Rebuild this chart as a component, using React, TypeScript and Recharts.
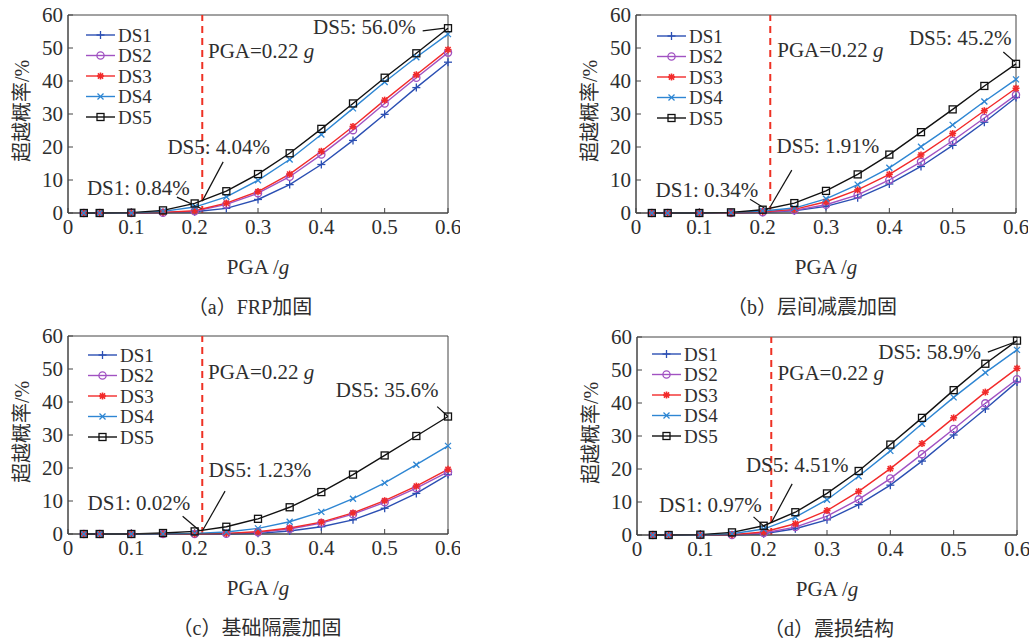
import React from 'react';
import { LineChart, Line, XAxis, YAxis, ReferenceLine, ReferenceDot, ReferenceArea } from 'recharts';

// PGA 取值 (g)
const PGA = [0.025, 0.05, 0.1, 0.15, 0.2, 0.25, 0.3, 0.35, 0.4, 0.45, 0.5, 0.55, 0.6];
const X_TICKS = [0, 0.1, 0.2, 0.3, 0.4, 0.5, 0.6];
const Y_TICKS = [0, 10, 20, 30, 40, 50, 60];

const SERIES = ['DS1', 'DS2', 'DS3', 'DS4', 'DS5'];
const COLORS = ['#2b4fb3', '#a152c2', '#f22a2a', '#2e86d3', '#111111'];
const MARKS = ['plus', 'circle', 'star', 'cross', 'square'];

// (a) FRP加固
const frpDS1 = [0, 0, 0, 0.1, 0.4, 1.4, 4.1, 8.6, 14.7, 22.0, 29.9, 38.0, 45.7];
const frpDS2 = [0, 0, 0, 0.1, 0.5, 2.6, 6.0, 11.0, 17.7, 25.1, 33.2, 41.0, 48.6];
const frpDS3 = [0, 0, 0, 0.2, 0.7, 3.0, 6.5, 11.8, 18.7, 26.2, 34.2, 41.9, 49.5];
const frpDS4 = [0, 0, 0, 0.5, 1.8, 4.9, 9.9, 16.2, 23.8, 31.7, 39.7, 47.2, 54.2];
const frpDS5 = [0, 0, 0.1, 0.8, 2.9, 6.6, 11.8, 18.1, 25.5, 33.2, 41.0, 48.4, 56.0];

// (b) 层间减震加固
const damperDS1 = [0, 0, 0, 0, 0.2, 0.7, 2.0, 4.6, 8.8, 14.1, 20.5, 27.5, 35.0];
const damperDS2 = [0, 0, 0, 0, 0.2, 0.8, 2.5, 5.5, 10.0, 15.5, 21.9, 28.8, 35.8];
const damperDS3 = [0, 0, 0, 0, 0.4, 1.1, 3.4, 7.0, 11.7, 17.6, 24.1, 31.0, 37.8];
const damperDS4 = [0, 0, 0, 0.1, 0.6, 1.5, 4.3, 8.6, 13.7, 20.1, 26.7, 33.8, 40.5];
const damperDS5 = [0, 0, 0, 0.2, 1.0, 3.0, 6.7, 11.7, 17.7, 24.5, 31.4, 38.5, 45.2];

// (c) 基础隔震加固
const isoDS1 = [0, 0, 0, 0, 0, 0, 0.2, 0.9, 2.2, 4.3, 7.8, 12.3, 18.0];
const isoDS2 = [0, 0, 0, 0, 0, 0.1, 0.5, 1.5, 3.3, 6.0, 9.6, 13.9, 18.8];
const isoDS3 = [0, 0, 0, 0, 0, 0.2, 0.7, 1.8, 3.6, 6.4, 10.1, 14.5, 19.6];
const isoDS4 = [0, 0, 0, 0, 0.2, 0.6, 1.7, 3.7, 6.7, 10.7, 15.5, 21.0, 26.7];
const isoDS5 = [0, 0, 0, 0.3, 0.8, 2.2, 4.6, 8.1, 12.7, 18.0, 23.8, 29.7, 35.6];

// (d) 震损结构
const dmgDS1 = [0, 0, 0, 0, 0.4, 1.9, 4.6, 9.2, 15.1, 22.4, 30.3, 38.2, 46.4];
const dmgDS2 = [0, 0, 0, 0, 0.6, 2.4, 5.7, 10.8, 17.1, 24.5, 32.1, 39.9, 47.2];
const dmgDS3 = [0, 0, 0, 0.1, 0.9, 3.4, 7.4, 13.2, 20.1, 27.7, 35.5, 43.3, 50.5];
const dmgDS4 = [0, 0, 0, 0.4, 1.8, 5.4, 10.7, 17.8, 25.5, 33.7, 41.7, 49.2, 56.1];
const dmgDS5 = [0, 0, 0.1, 0.8, 2.8, 6.9, 12.6, 19.4, 27.4, 35.5, 43.9, 51.9, 58.9];

const PGA_LINE = 0.212;

const TEXT = '#2e2e2e';
const FONT = '"Liberation Serif", "Noto Sans CJK SC", serif';
const FS = 21;

function Marker({ kind, x, y, color }: any) {
  switch (kind) {
    case 'plus':
      return (
        <g stroke={color} strokeWidth={1.3}>
          <line x1={x - 4} y1={y} x2={x + 4} y2={y} />
          <line x1={x} y1={y - 4} x2={x} y2={y + 4} />
        </g>
      );
    case 'circle':
      return <circle cx={x} cy={y} r={3.6} fill="none" stroke={color} strokeWidth={1.3} />;
    case 'star':
      return (
        <g stroke={color} strokeWidth={1.6}>
          <line x1={x - 3.5} y1={y} x2={x + 3.5} y2={y} />
          <line x1={x} y1={y - 3.5} x2={x} y2={y + 3.5} />
          <line x1={x - 2.6} y1={y - 2.6} x2={x + 2.6} y2={y + 2.6} />
          <line x1={x - 2.6} y1={y + 2.6} x2={x + 2.6} y2={y - 2.6} />
        </g>
      );
    case 'cross':
      return (
        <g stroke={color} strokeWidth={1.3}>
          <line x1={x - 3} y1={y - 3} x2={x + 3} y2={y + 3} />
          <line x1={x - 3} y1={y + 3} x2={x + 3} y2={y - 3} />
        </g>
      );
    default:
      return <rect x={x - 3.5} y={y - 3.5} width={7} height={7} fill="none" stroke={color} strokeWidth={1.3} />;
  }
}

const dotFor = (i: number) => (p: any) => {
  if (p.cx == null || p.cy == null) return <g key={p.index} />;
  return (
    <g key={`${SERIES[i]}-${p.index}`}>
      <Marker kind={MARKS[i]} x={p.cx} y={p.cy} color={COLORS[i]} />
    </g>
  );
};

const noteLabel = (text: string) => (p: any) => {
  const vb = p.viewBox || {};
  const cx = (vb.x ?? 0) + (vb.width ?? 0) / 2;
  const cy = (vb.y ?? 0) + (vb.height ?? 0) / 2;
  return (
    <text x={cx} y={cy} textAnchor="middle" dominantBaseline="central" fontSize={FS} fill={TEXT}>
      {text}
    </text>
  );
};

const pgaLabel = (p: any) => {
  const vb = p.viewBox || {};
  const cx = (vb.x ?? 0) + (vb.width ?? 0) / 2;
  const cy = (vb.y ?? 0) + (vb.height ?? 0) / 2;
  return (
    <text x={cx} y={cy} textAnchor="start" dominantBaseline="central" fontSize={FS} fill={TEXT}>
      PGA=0.22 <tspan fontStyle="italic">g</tspan>
    </text>
  );
};

function Legend({ x, y }: { x: number; y: number }) {
  return (
    <svg style={{ position: 'absolute', left: x, top: y - 11 }} width={80} height={110}>
      {SERIES.map((s, i) => {
        const cy = 11 + i * 20.5;
        return (
          <g key={s}>
            <line x1={0} y1={cy} x2={29} y2={cy} stroke={COLORS[i]} strokeWidth={1.4} />
            <Marker kind={MARKS[i]} x={14.5} y={cy} color={COLORS[i]} />
            <text x={32} y={cy} dominantBaseline="central" fontSize={19} fill={TEXT} fontFamily={FONT}>
              {s}
            </text>
          </g>
        );
      })}
    </svg>
  );
}

function Panel({ left, top, series, notes, leaders, pgaAt, caption, captionX, legendX, legendY }: any) {
  const data = PGA.map((x, i) => {
    const row: any = { x };
    SERIES.forEach((s, k) => (row[s] = series[k][i]));
    return row;
  });
  return (
    <div style={{ position: 'absolute', left, top, width: 460, height: 320, fontFamily: FONT, color: TEXT }}>
      <LineChart width={460} height={320} data={data} margin={{ top: 15, right: 12, left: 0, bottom: 0 }}>
        <XAxis
          dataKey="x"
          type="number"
          domain={[0, 0.6]}
          ticks={X_TICKS}
          interval={0}
          height={107}
          tickSize={-5}
          tickMargin={11}
          stroke="#444"
          tick={{ fill: TEXT, fontSize: FS }}
        />
        <YAxis
          type="number"
          domain={[0, 60]}
          ticks={Y_TICKS}
          interval={0}
          width={68}
          tickSize={-5}
          tickMargin={10}
          stroke="#444"
          tick={{ fill: TEXT, fontSize: FS }}
        />
        <ReferenceArea x1={0} x2={0.6} y1={0} y2={60} fill="none" stroke="#444" strokeWidth={1} />
        <ReferenceLine x={PGA_LINE} stroke="#ee3124" strokeWidth={2} strokeDasharray="7 5" />
        {leaders.map((l: number[], k: number) => (
          <ReferenceLine
            key={`ld${k}`}
            segment={[{ x: l[0], y: l[1] }, { x: l[2], y: l[3] }]}
            stroke="#111"
            strokeWidth={1.2}
          />
        ))}
        {SERIES.map((s, i) => (
          <Line
            key={s}
            dataKey={s}
            type="linear"
            stroke={COLORS[i]}
            strokeWidth={1.4}
            dot={dotFor(i)}
            activeDot={false}
            isAnimationActive={false}
          />
        ))}
        <ReferenceDot x={pgaAt[0]} y={pgaAt[1]} r={0} fill="none" stroke="none" label={pgaLabel} />
        {notes.map((n: any, k: number) => (
          <ReferenceDot key={`nt${k}`} x={n.x} y={n.y} r={0} fill="none" stroke="none" label={noteLabel(n.text)} />
        ))}
      </LineChart>
      <Legend x={legendX} y={legendY} />
      <div
        style={{
          position: 'absolute',
          left: 20,
          top: 111,
          transform: 'translate(-50%, -50%) rotate(-90deg)',
          whiteSpace: 'nowrap',
          fontSize: 20,
        }}
      >
        超越概率/%
      </div>
      <div style={{ position: 'absolute', left: 258, top: 267, transform: 'translate(-50%, -50%)', whiteSpace: 'nowrap', fontSize: FS }}>
        PGA /<i>g</i>
      </div>
      <div style={{ position: 'absolute', left: captionX, top: 305, transform: 'translate(-50%, -50%)', whiteSpace: 'nowrap', fontSize: 20 }}>
        {caption}
      </div>
    </div>
  );
}

const NOTES_A = [
  { text: 'DS5: 56.0%', x: 0.468, y: 56.4 },
  { text: 'DS5: 4.04%', x: 0.238, y: 20 },
  { text: 'DS1: 0.84%', x: 0.111, y: 7.6 },
];
const LEADERS_A = [[0.56, 55.2, 0.595, 56], [0.245, 15.5, 0.212, 3.6], [0.172, 4.8, 0.212, 1.2]];

const NOTES_B = [
  { text: 'DS5: 45.2%', x: 0.512, y: 53 },
  { text: 'DS5: 1.91%', x: 0.303, y: 20.3 },
  { text: 'DS1: 0.34%', x: 0.112, y: 7.0 },
];
const LEADERS_B = [[0.58, 48.8, 0.598, 45.8], [0.246, 13, 0.212, 1.9], [0.18, 4.2, 0.21, 0.6]];

const NOTES_C = [
  { text: 'DS5: 35.6%', x: 0.504, y: 43.7 },
  { text: 'DS5: 1.23%', x: 0.303, y: 19.3 },
  { text: 'DS1: 0.02%', x: 0.112, y: 9.3 },
];
const LEADERS_C = [[0.583, 38.6, 0.6, 35.6], [0.248, 13, 0.213, 1.2], [0.181, 5.4, 0.208, 1.0]];

const NOTES_D = [
  { text: 'DS5: 58.9%', x: 0.462, y: 55.4 },
  { text: 'DS5: 4.51%', x: 0.253, y: 21.3 },
  { text: 'DS1: 0.97%', x: 0.116, y: 9.1 },
];
const LEADERS_D = [[0.554, 55.4, 0.597, 58.5], [0.245, 15.5, 0.212, 3.7], [0.184, 5.5, 0.209, 1.2]];

export default function App() {
  return (
    <div style={{ position: 'fixed', left: 0, top: 0, width: 1033, height: 642, background: '#fff', overflow: 'hidden' }}>
      <Panel
        left={0}
        top={0}
        series={[frpDS1, frpDS2, frpDS3, frpDS4, frpDS5]}
        notes={NOTES_A}
        leaders={LEADERS_A}
        pgaAt={[0.221, 49]}
        caption="（a）FRP加固"
        captionX={250}
        legendX={86}
        legendY={35}
      />
      <Panel
        left={568}
        top={0}
        series={[damperDS1, damperDS2, damperDS3, damperDS4, damperDS5]}
        notes={NOTES_B}
        leaders={LEADERS_B}
        pgaAt={[0.223, 49.4]}
        caption="（b）层间减震加固"
        captionX={244}
        legendX={89}
        legendY={36}
      />
      <Panel
        left={0}
        top={321}
        series={[isoDS1, isoDS2, isoDS3, isoDS4, isoDS5]}
        notes={NOTES_C}
        leaders={LEADERS_C}
        pgaAt={[0.221, 49]}
        caption="（c）基础隔震加固"
        captionX={257}
        legendX={88}
        legendY={34}
      />
      <Panel
        left={569}
        top={322}
        series={[dmgDS1, dmgDS2, dmgDS3, dmgDS4, dmgDS5]}
        notes={NOTES_D}
        leaders={LEADERS_D}
        pgaAt={[0.222, 49]}
        caption="（d）震损结构"
        captionX={260}
        legendX={83}
        legendY={32}
      />
    </div>
  );
}
